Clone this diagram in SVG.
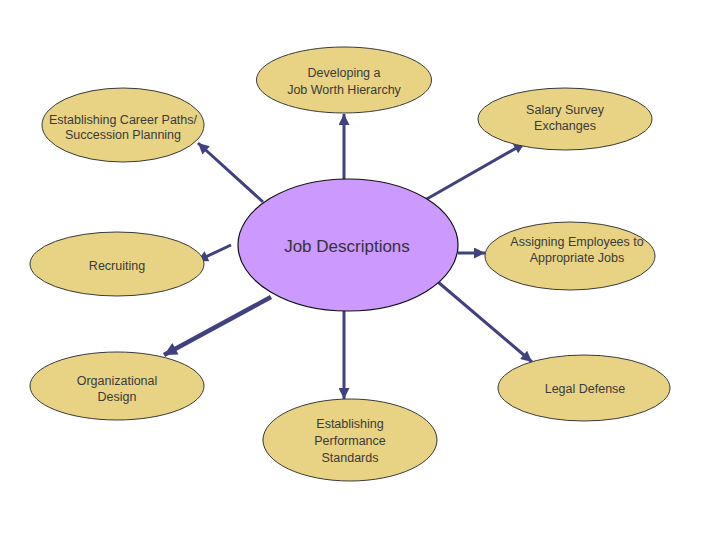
<svg xmlns="http://www.w3.org/2000/svg" width="720" height="540" viewBox="0 0 720 540">
<style>
.n{fill:#E8D384;stroke:#3a3a3a;stroke-width:1}
.c{fill:#CC99FF;stroke:#111;stroke-width:1.2}
.t{font-family:"Liberation Sans",Arial,sans-serif;font-size:12.5px;fill:#3a3a3a;text-anchor:middle}
.tc{font-family:"Liberation Sans",Arial,sans-serif;font-size:17px;fill:#333;text-anchor:middle}
.a{stroke:#41417F;stroke-width:3;fill:none;marker-end:url(#ah)}
.a2{stroke:#41417F;stroke-width:4.5;fill:none;marker-end:url(#ah2)}
</style>
<defs>
<marker id="ah" viewBox="0 0 10 10" refX="10" refY="5" markerWidth="13" markerHeight="11" markerUnits="userSpaceOnUse" orient="auto">
<path d="M0,0 L10,5 L0,10 Z" fill="#41417F"/>
</marker>
<marker id="ah2" viewBox="0 0 10 10" refX="10" refY="5" markerWidth="15" markerHeight="13" markerUnits="userSpaceOnUse" orient="auto">
<path d="M0,0 L10,5 L0,10 Z" fill="#41417F"/>
</marker>
</defs>
<rect width="720" height="540" fill="#fff"/>
<g id="connectors">
<line class="a" x1="344" y1="180" x2="344" y2="114"/>
<line class="a" x1="263" y1="202" x2="198" y2="143"/>
<line class="a" x1="425" y1="200" x2="525" y2="143"/>
<line class="a" x1="231" y1="245" x2="197" y2="261"/>
<line class="a" x1="458" y1="253" x2="485" y2="253"/>
<line class="a2" x1="271" y1="297" x2="164" y2="355"/>
<line class="a" x1="438" y1="282" x2="532" y2="362"/>
<line class="a" x1="344" y1="311" x2="344" y2="399"/>
</g>
<g id="center">
<ellipse class="c" cx="348" cy="245" rx="110" ry="66"/>
<text class="tc" x="347" y="252">Job Descriptions</text>
</g>
<g id="hierarchy">
<ellipse class="n" cx="344" cy="80" rx="87.5" ry="33"/>
<text class="t" x="344" y="77">Developing a</text>
<text class="t" x="344" y="94">Job Worth Hierarchy</text>
</g>
<g id="career">
<ellipse class="n" cx="123" cy="125" rx="81" ry="37"/>
<text class="t" x="123" y="124">Establishing Career Paths/</text>
<text class="t" x="123" y="139">Succession Planning</text>
</g>
<g id="salary">
<ellipse class="n" cx="565" cy="119" rx="87" ry="31"/>
<text class="t" x="565" y="114">Salary Survey</text>
<text class="t" x="565" y="130">Exchanges</text>
</g>
<g id="recruiting">
<ellipse class="n" cx="117" cy="264" rx="87" ry="32"/>
<text class="t" x="117" y="270">Recruiting</text>
</g>
<g id="assigning">
<ellipse class="n" cx="570" cy="256" rx="85" ry="34"/>
<text class="t" x="577" y="246">Assigning Employees to</text>
<text class="t" x="577" y="262">Appropriate Jobs</text>
</g>
<g id="orgdesign">
<ellipse class="n" cx="117" cy="386" rx="87" ry="34"/>
<text class="t" x="117" y="385">Organizational</text>
<text class="t" x="117" y="401">Design</text>
</g>
<g id="legal">
<ellipse class="n" cx="584" cy="388" rx="86" ry="33"/>
<text class="t" x="585" y="393">Legal Defense</text>
</g>
<g id="performance">
<ellipse class="n" cx="350" cy="440" rx="87" ry="41"/>
<text class="t" x="350" y="428">Establishing</text>
<text class="t" x="350" y="445">Performance</text>
<text class="t" x="350" y="462">Standards</text>
</g>
</svg>
